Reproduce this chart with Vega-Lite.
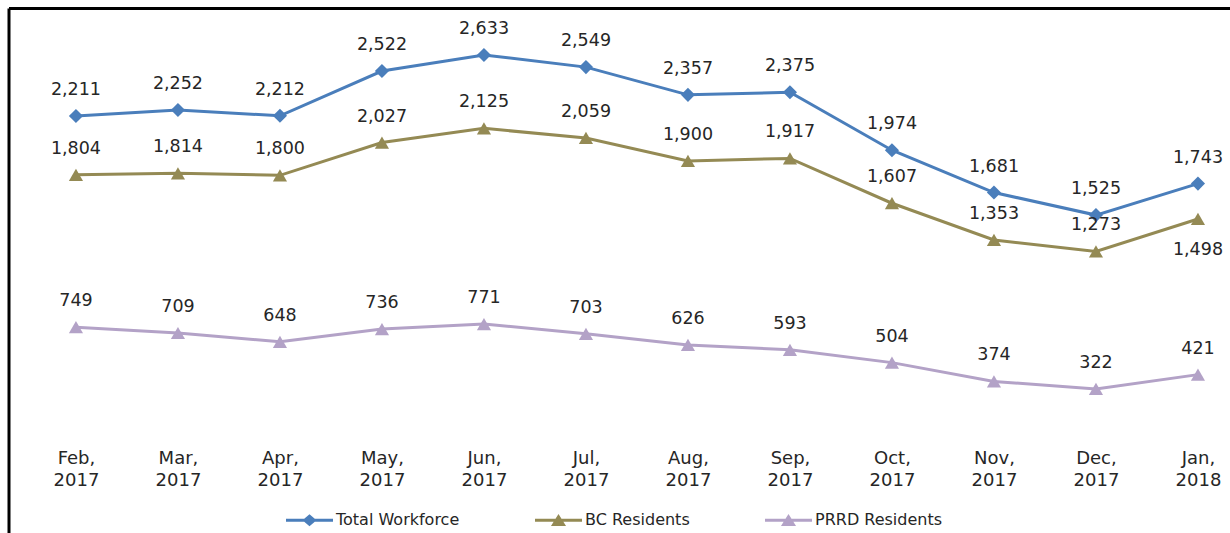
{
  "$schema": "https://vega.github.io/schema/vega-lite/v6.json",
  "autosize": "none",
  "width": 1221.5,
  "height": 525,
  "padding": {"left": 8.5, "top": 8, "right": 0, "bottom": 0},
  "background": "white",
  "view": {"stroke": null},
  "data": {"values": [
    {"month": "Feb, 2017", "series": "Total Workforce", "value": 2211},
    {"month": "Mar, 2017", "series": "Total Workforce", "value": 2252},
    {"month": "Apr, 2017", "series": "Total Workforce", "value": 2212},
    {"month": "May, 2017", "series": "Total Workforce", "value": 2522},
    {"month": "Jun, 2017", "series": "Total Workforce", "value": 2633},
    {"month": "Jul, 2017", "series": "Total Workforce", "value": 2549},
    {"month": "Aug, 2017", "series": "Total Workforce", "value": 2357},
    {"month": "Sep, 2017", "series": "Total Workforce", "value": 2375},
    {"month": "Oct, 2017", "series": "Total Workforce", "value": 1974},
    {"month": "Nov, 2017", "series": "Total Workforce", "value": 1681},
    {"month": "Dec, 2017", "series": "Total Workforce", "value": 1525},
    {"month": "Jan, 2018", "series": "Total Workforce", "value": 1743},
    {"month": "Feb, 2017", "series": "BC Residents", "value": 1804},
    {"month": "Mar, 2017", "series": "BC Residents", "value": 1814},
    {"month": "Apr, 2017", "series": "BC Residents", "value": 1800},
    {"month": "May, 2017", "series": "BC Residents", "value": 2027},
    {"month": "Jun, 2017", "series": "BC Residents", "value": 2125},
    {"month": "Jul, 2017", "series": "BC Residents", "value": 2059},
    {"month": "Aug, 2017", "series": "BC Residents", "value": 1900},
    {"month": "Sep, 2017", "series": "BC Residents", "value": 1917},
    {"month": "Oct, 2017", "series": "BC Residents", "value": 1607},
    {"month": "Nov, 2017", "series": "BC Residents", "value": 1353},
    {"month": "Dec, 2017", "series": "BC Residents", "value": 1273},
    {"month": "Jan, 2018", "series": "BC Residents", "value": 1498},
    {"month": "Feb, 2017", "series": "PRRD Residents", "value": 749},
    {"month": "Mar, 2017", "series": "PRRD Residents", "value": 709},
    {"month": "Apr, 2017", "series": "PRRD Residents", "value": 648},
    {"month": "May, 2017", "series": "PRRD Residents", "value": 736},
    {"month": "Jun, 2017", "series": "PRRD Residents", "value": 771},
    {"month": "Jul, 2017", "series": "PRRD Residents", "value": 703},
    {"month": "Aug, 2017", "series": "PRRD Residents", "value": 626},
    {"month": "Sep, 2017", "series": "PRRD Residents", "value": 593},
    {"month": "Oct, 2017", "series": "PRRD Residents", "value": 504},
    {"month": "Nov, 2017", "series": "PRRD Residents", "value": 374},
    {"month": "Dec, 2017", "series": "PRRD Residents", "value": 322},
    {"month": "Jan, 2018", "series": "PRRD Residents", "value": 421}
  ]},
  "encoding": {
    "x": {
      "field": "month", "type": "ordinal", "sort": null,
      "scale": {"type": "point", "padding": 0.4877, "align": 0.678},
      "axis": {
        "orient": "bottom", "offset": -84, "domain": false, "ticks": false, "grid": false,
        "labelPadding": 0, "labelFont": "DejaVu Sans", "labelFontSize": 18, "labelLineHeight": 22,
        "labelColor": "#262626", "labelAngle": 0, "title": null, "labelOverlap": false,
        "labelExpr": "split(datum.label, ' ')"
      }
    },
    "y": {
      "field": "value", "type": "quantitative",
      "scale": {"domain": [-675, 2958], "nice": false, "zero": false},
      "axis": {
        "orient": "left", "values": [2958], "grid": true, "gridColor": "black", "gridWidth": 3,
        "gridOpacity": 1, "domain": true, "domainColor": "black", "domainWidth": 3,
        "labels": false, "ticks": false, "title": null
      }
    },
    "color": {
      "field": "series", "type": "nominal",
      "scale": {"domain": ["Total Workforce", "BC Residents", "PRRD Residents"], "range": ["#4A7EBB", "#948A54", "#B3A2C7"]},
      "legend": {
        "title": null, "orient": "none", "direction": "horizontal", "columns": 3,
        "legendX": 277.5, "legendY": 488.5, "symbolSize": 2209, "columnPadding": 75,
        "labelOffset": 3, "labelFont": "DejaVu Sans", "labelFontSize": 16, "labelColor": "#262626",
        "encode": {
          "symbols": {
            "update": {
              "shape": {"signal": "datum.value === 'Total Workforce' ? 'M-1,-0.06L1,-0.06L1,0.06L-1,0.06Z M0,-0.26L0.3,0L0,0.26L-0.3,0Z' : 'M-1,-0.06L1,-0.06L1,0.06L-1,0.06Z M0,-0.27L0.32,0.24L-0.32,0.24Z'"},
              "fill": {"scale": "color", "field": "value"},
              "stroke": {"scale": "color", "field": "value"},
              "strokeWidth": {"value": 0},
              "opacity": {"value": 1},
              "fillOpacity": {"value": 1}
            }
          }
        }
      }
    }
  },
  "layer": [
    {
      "mark": {"type": "line", "strokeWidth": 3}
    },
    {
      "transform": [{"filter": "datum.series === 'Total Workforce'"}],
      "mark": {"type": "point", "filled": true, "size": 200, "opacity": 1, "shape": "diamond"}
    },
    {
      "transform": [{"filter": "datum.series !== 'Total Workforce'"}],
      "mark": {"type": "point", "filled": true, "size": 200, "opacity": 1, "shape": "triangle-up"}
    },
    {
      "transform": [{"filter": "!(datum.series === 'BC Residents' && datum.month === 'Jan, 2018')"}],
      "mark": {"type": "text", "dy": -26, "font": "DejaVu Sans", "fontSize": 17.5, "color": "#262626"},
      "encoding": {"color": {"value": "#262626"}, "text": {"field": "value", "type": "quantitative", "format": ",d"}}
    },
    {
      "transform": [{"filter": "datum.series === 'BC Residents' && datum.month === 'Jan, 2018'"}],
      "mark": {"type": "text", "dy": 31, "font": "DejaVu Sans", "fontSize": 17.5, "color": "#262626"},
      "encoding": {"color": {"value": "#262626"}, "text": {"field": "value", "type": "quantitative", "format": ",d"}}
    }
  ]
}
